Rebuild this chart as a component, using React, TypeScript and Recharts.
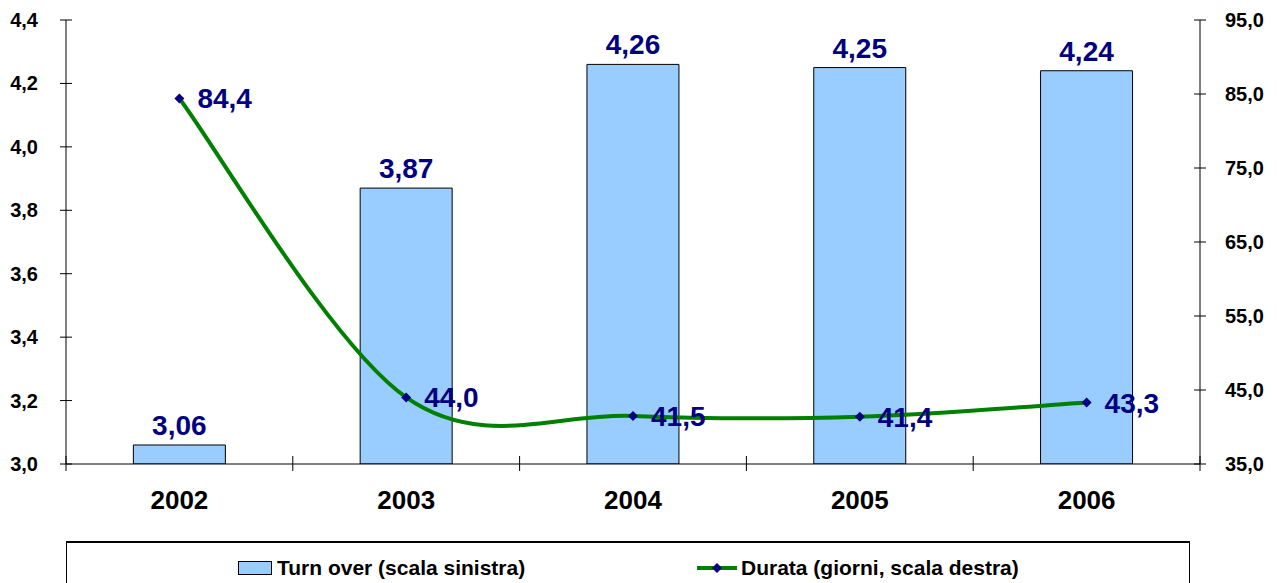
import React from 'react';
import {
  ComposedChart,
  Bar,
  Line,
  XAxis,
  YAxis,
  Legend,
  LabelList
} from 'recharts';

const years = ['2002', '2003', '2004', '2005', '2006'];
const turnOver = [3.06, 3.87, 4.26, 4.25, 4.24];
const durata = [84.4, 44.0, 41.5, 41.4, 43.3];
const leftTicks = [3.0, 3.2, 3.4, 3.6, 3.8, 4.0, 4.2, 4.4];
const rightTicks = [35, 45, 55, 65, 75, 85, 95];

const data = years.map((year, i) => ({
  year,
  turnOver: turnOver[i],
  durata: durata[i]
}));

const FONT = '"Liberation Sans", Arial, sans-serif';
const NAVY = '#000080';
const GREEN = '#008000';
const BAR_FILL = '#99CCFF';

const comma = (v: number, digits: number) => v.toFixed(digits).replace('.', ',');

// Excel-style smoothed line (Catmull-Rom through the points)
const excelSmooth = (context: any) => {
  let pts: [number, number][] = [];
  return {
    areaStart() {},
    areaEnd() {},
    lineStart() {
      pts = [];
    },
    point(x: number, y: number) {
      pts.push([+x, +y]);
    },
    lineEnd() {
      if (!pts.length) return;
      context.moveTo(pts[0][0], pts[0][1]);
      for (let i = 0; i < pts.length - 1; i++) {
        const p0 = pts[Math.max(i - 1, 0)];
        const p1 = pts[i];
        const p2 = pts[i + 1];
        const p3 = pts[Math.min(i + 2, pts.length - 1)];
        context.bezierCurveTo(
          p1[0] + (p2[0] - p0[0]) / 6,
          p1[1] + (p2[1] - p0[1]) / 6,
          p2[0] - (p3[0] - p1[0]) / 6,
          p2[1] - (p3[1] - p1[1]) / 6,
          p2[0],
          p2[1]
        );
      }
    }
  };
};

const LeftTick = ({ x, y, payload }: any) => (
  <g>
    <line x1={x - 6} x2={x + 6} y1={y} y2={y} stroke="#000" strokeWidth={1} />
    <text x={x - 28} y={y} dy={7} textAnchor="end" fontFamily={FONT} fontWeight="bold" fontSize={20} fill="#000">
      {comma(payload.value, 1)}
    </text>
  </g>
);

const RightTick = ({ x, y, payload }: any) => (
  <g>
    <line x1={x - 6} x2={x + 6} y1={y} y2={y} stroke="#000" strokeWidth={1} />
    <text x={x + 25} y={y} dy={7} textAnchor="start" fontFamily={FONT} fontWeight="bold" fontSize={20} fill="#000">
      {comma(payload.value, 1)}
    </text>
  </g>
);

const XTick = ({ x, y, payload, index, visibleTicksCount }: any) => {
  const off = payload.offset || 0;
  return (
    <g>
      <line x1={x - off} x2={x - off} y1={y - 8} y2={y + 7} stroke="#000" strokeWidth={1} />
      {index === visibleTicksCount - 1 && (
        <line x1={x + off} x2={x + off} y1={y - 8} y2={y + 7} stroke="#000" strokeWidth={1} />
      )}
      <text x={x} y={y + 45} textAnchor="middle" fontFamily={FONT} fontWeight="bold" fontSize={26} fill="#000">
        {payload.value}
      </text>
    </g>
  );
};

const Diamond = ({ cx, cy }: any) => {
  if (cx == null || cy == null) return null;
  const r = 5;
  return (
    <path
      d={`M${cx},${cy - r} L${cx + r},${cy} L${cx},${cy + r} L${cx - r},${cy} Z`}
      fill={NAVY}
    />
  );
};

const LineLabel = ({ x, y, value }: any) => (
  <text x={x + 18} y={y} dy={10} textAnchor="start" fontFamily={FONT} fontWeight="bold" fontSize={28} fill={NAVY}>
    {comma(value, 1)}
  </text>
);

const BarLabel = ({ x, y, width, value }: any) => (
  <text x={x + width / 2} y={y - 10} textAnchor="middle" fontFamily={FONT} fontWeight="bold" fontSize={28} fill={NAVY}>
    {comma(value, 2)}
  </text>
);

const LegendBox = () => (
  <div
    style={{
      marginLeft: 66,
      width: 1124,
      height: 42,
      borderTop: '2px solid #000',
      borderLeft: '1px solid #000',
      borderRight: '1px solid #000',
      boxSizing: 'border-box',
      fontFamily: FONT,
      fontWeight: 'bold',
      fontSize: 21,
      color: '#000',
      position: 'relative'
    }}
  >
    <div style={{ position: 'absolute', left: 171, top: 13, display: 'flex', alignItems: 'center' }}>
      <span style={{ display: 'inline-block', width: 32, height: 12, background: BAR_FILL, border: '1px solid #000', marginRight: 5 }} />
      <span>Turn over (scala sinistra)</span>
    </div>
    <div style={{ position: 'absolute', left: 630, top: 13, display: 'flex', alignItems: 'center' }}>
      <svg width={40} height={14} style={{ marginRight: 4 }}>
        <line x1={0} x2={40} y1={7} y2={7} stroke={GREEN} strokeWidth={4} />
        <path d="M20,2 L25,7 L20,12 L15,7 Z" fill={NAVY} />
      </svg>
      <span>Durata (giorni, scala destra)</span>
    </div>
  </div>
);

export default function App() {
  return (
    <div style={{ position: 'absolute', left: 0, top: 0, width: 1277, height: 583, overflow: 'hidden', background: '#fff' }}>
      <ComposedChart
        width={1277}
        height={583}
        data={data}
        margin={{ top: 20, right: 0, bottom: 0, left: 0 }}
        barCategoryGap="29.7%"
      >
        <XAxis
          dataKey="year"
          axisLine={{ stroke: '#000' }}
          tickLine={false}
          tickSize={0}
          tickMargin={0}
          height={77}
          tick={<XTick />}
          interval={0}
        />
        <YAxis
          yAxisId="left"
          orientation="left"
          domain={[3.0, 4.4]}
          ticks={leftTicks}
          width={66}
          axisLine={{ stroke: '#000' }}
          tickLine={false}
          tickSize={0}
          tickMargin={0}
          tick={<LeftTick />}
          interval={0}
          allowDataOverflow
        />
        <YAxis
          yAxisId="right"
          orientation="right"
          domain={[35, 95]}
          ticks={rightTicks}
          width={77}
          axisLine={{ stroke: '#000' }}
          tickLine={false}
          tickSize={0}
          tickMargin={0}
          tick={<RightTick />}
          interval={0}
        />
        <Legend verticalAlign="bottom" height={42} content={<LegendBox />} />
        <Bar
          yAxisId="left"
          dataKey="turnOver"
          fill={BAR_FILL}
          stroke="#000"
          strokeWidth={1}
          isAnimationActive={false}
        >
          <LabelList dataKey="turnOver" content={<BarLabel />} />
        </Bar>
        <Line
          yAxisId="right"
          type={excelSmooth as any}
          dataKey="durata"
          stroke={GREEN}
          strokeWidth={4}
          dot={<Diamond />}
          activeDot={false}
          isAnimationActive={false}
        >
          <LabelList dataKey="durata" content={<LineLabel />} />
        </Line>
      </ComposedChart>
    </div>
  );
}
